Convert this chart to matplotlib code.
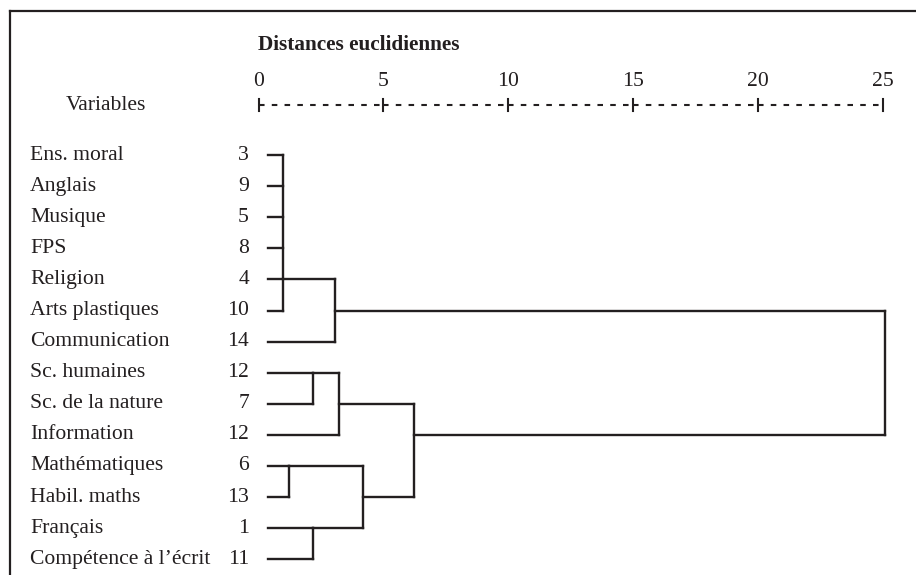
import matplotlib
matplotlib.use("Agg")
import matplotlib.pyplot as plt
from matplotlib.lines import Line2D
from matplotlib.transforms import blended_transform_factory

plt.rcParams["lines.scale_dashes"] = False

# ---------------- data ----------------
variables = ["Ens. moral", "Anglais", "Musique", "FPS", "Religion",
             "Arts plastiques", "Communication", "Sc. humaines",
             "Sc. de la nature", "Information", "Mathématiques",
             "Habil. maths", "Français", "Compétence à l\u2019écrit"]
case_numbers = ["3", "9", "5", "8", "4", "10", "14", "12", "7", "12",
                "6", "13", "1", "11"]
# merges: node ids 0..13 are leaves, new clusters get ids 14, 15, ...
merge_children = [[0, 1, 2, 3, 4, 5], [14, 6], [7, 8], [16, 9],
                  [10, 11], [12, 13], [18, 19], [17, 20], [15, 21]]
merge_heights = [1.00, 3.06, 2.20, 3.21, 1.22, 2.20, 4.20, 6.23, 25.10]
merge_rows = [4, 5, 7, 8, 10, 12, 11, 9, None]
scale_ticks = [0, 5, 10, 15, 20, 25]
title = "Distances euclidiennes"
var_header = "Variables"

# ---------------- figure ----------------
W, H = 916, 575
fig = plt.figure(figsize=(W / 100, H / 100), dpi=100)
ink = "#231f20"
font = "Liberation Serif"
fs = 15.6

# frame (top and left border lines)
fig.add_artist(Line2D([9.5 / W, 9.5 / W], [0, 1 - 11 / H], transform=fig.transFigure,
                      color=ink, lw=1.6, solid_capstyle="projecting"))
fig.add_artist(Line2D([9.5 / W, 1], [1 - 11 / H, 1 - 11 / H], transform=fig.transFigure,
                      color=ink, lw=1.6, solid_capstyle="projecting"))

x0_px, x25_px = 258.5, 883.0
row0_px, row13_px = 155.0, 559.3
sp = (row13_px - row0_px) / 13
top_px = row0_px - sp / 2
bot_px = row13_px + sp / 2
ax = fig.add_axes([x0_px / W, 1 - bot_px / H, (x25_px - x0_px) / W, (bot_px - top_px) / H])
ax.set_xlim(0, 25)
ax.set_ylim(13.5, -0.5)
ax.axis("off")

def row_of(px):
    return (px - row0_px) / sp

lw = 1.7
leaf_start = 0.4
n = len(variables)
node_h = {i: leaf_start for i in range(n)}
node_row = {i: i for i in range(n)}

for k, (ch, h, r) in enumerate(zip(merge_children, merge_heights, merge_rows)):
    nid = n + k
    rows = [node_row[c] for c in ch]
    for c in ch:
        ax.plot([node_h[c], h], [node_row[c], node_row[c]], color=ink, lw=lw,
                solid_capstyle="projecting", clip_on=False)
    ax.plot([h, h], [min(rows), max(rows)], color=ink, lw=lw,
            solid_capstyle="projecting", clip_on=False)
    node_h[nid] = h
    node_row[nid] = r

# labels
tr = blended_transform_factory(fig.transFigure, ax.transData)
for i, (lab, num) in enumerate(zip(variables, case_numbers)):
    ax.text(30 / W, i, lab, transform=tr, ha="left", va="center",
            fontsize=fs, family=font, color=ink)
    ax.text(249 / W, i, num, transform=tr, ha="right", va="center",
            fontsize=fs, family=font, color=ink)

# scale ruler
ry = row_of(105)
for a, b in zip(scale_ticks[:-1], scale_ticks[1:]):
    ax.plot([a, b], [ry, ry], color=ink, lw=1.5, linestyle=(0, (4.0, 5.2)),
            dash_capstyle="butt", clip_on=False)
for t in scale_ticks:
    ax.plot([t, t], [ry - 0.19, ry + 0.19], color=ink, lw=1.5, clip_on=False)
    ax.text(t, row_of(82), str(t), ha="center", va="center", fontsize=fs,
            family=font, color=ink)

ax.text(0, row_of(45), title, ha="left", va="center", fontsize=15.3,
        family=font, fontweight="bold", color=ink)
ax.text(106 / W, row_of(106), var_header, transform=tr, ha="center", va="center",
        fontsize=fs, family=font, color=ink)

fig.savefig("out.png", dpi=100)
